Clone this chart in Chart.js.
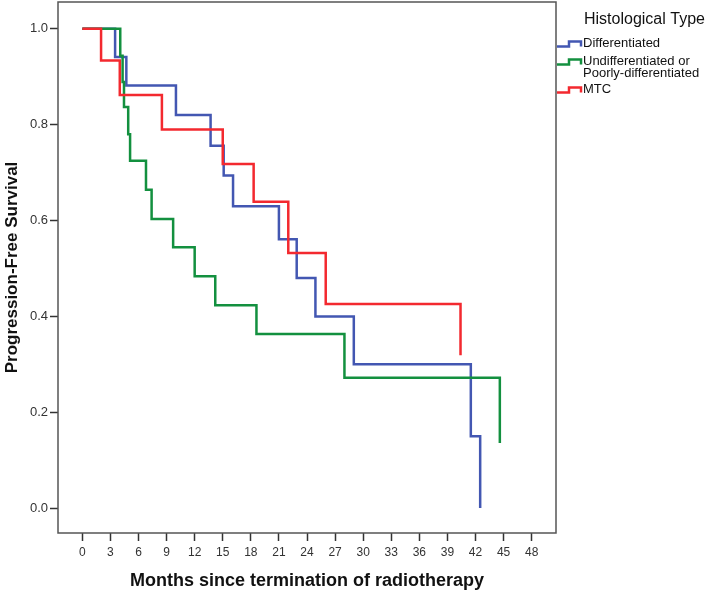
<!DOCTYPE html>
<html>
<head>
<meta charset="utf-8">
<script src="https://cdn.jsdelivr.net/npm/chart.js@4/dist/chart.umd.min.js"></script>
<style>
html,body{margin:0;padding:0;background:#fff;}
#wrap{width:709px;height:593px;position:relative;}
</style>
</head>
<body>
<div id="wrap"><canvas id="c" width="709" height="593"></canvas></div>
<script>
// ---- data ----
const seriesNames = ["Differentiated", "Undifferentiated or Poorly-differentiated", "MTC"];
const legendTitle = "Histological Type";

const diffMonths = [0, 3.5, 4.7, 10.0, 13.7, 15.1, 16.1, 21.0, 22.9, 24.9, 29.0, 41.5, 42.5];
const diffSurv   = [1, 0.941, 0.882, 0.820, 0.756, 0.694, 0.630, 0.561, 0.480, 0.400, 0.300, 0.150, 0.0];

const undiffMonths = [0, 4.05, 4.3, 4.45, 4.9, 5.1, 6.8, 7.4, 9.7, 12.0, 14.2, 18.6, 28.0, 44.6];
const undiffSurv   = [1, 0.944, 0.889, 0.837, 0.780, 0.725, 0.664, 0.603, 0.544, 0.484, 0.423, 0.363, 0.272, 0.136];

const mtcMonths = [0, 2.0, 4.0, 8.5, 15.0, 18.3, 22.0, 26.0, 40.4];
const mtcSurv   = [1, 0.934, 0.862, 0.790, 0.718, 0.639, 0.532, 0.426, 0.319];

const xTickValues = [0, 3, 6, 9, 12, 15, 18, 21, 24, 27, 30, 33, 36, 39, 42, 45, 48];
const yTickValues = [0.0, 0.2, 0.4, 0.6, 0.8, 1.0];

const colors = ["#4357b2", "#13903f", "#f3292f"];

function pts(xs, ys) { return xs.map((x, i) => ({ x: x, y: ys[i] })); }

const FONT = "'Liberation Sans', Arial, Helvetica, sans-serif";

const frameAndLegend = {
  id: 'frameAndLegend',
  afterDraw(chart) {
    const ctx = chart.ctx;
    const a = chart.chartArea;
    ctx.save();
    ctx.strokeStyle = '#555';
    ctx.lineWidth = 1.5;
    ctx.strokeRect(a.left, a.top, a.right - a.left, a.bottom - a.top);
    // legend
    ctx.fillStyle = '#111';
    ctx.textBaseline = 'middle';
    ctx.textAlign = 'left';
    ctx.font = "16px " + FONT;
    ctx.fillText(legendTitle, 584, 19.5);
    ctx.font = "13px " + FONT;
    const items = [
      { lines: [seriesNames[0]], y: 43.5 },
      { lines: ["Undifferentiated or", "Poorly-differentiated"], y: 61.5 },
      { lines: [seriesNames[2]], y: 89.5 }
    ];
    items.forEach((it, i) => {
      const iy = it.y;
      ctx.strokeStyle = colors[i];
      ctx.lineWidth = 2.5;
      ctx.beginPath();
      ctx.moveTo(557, iy + 3);
      ctx.lineTo(569, iy + 3);
      ctx.lineTo(569, iy - 2);
      ctx.lineTo(581, iy - 2);
      ctx.lineTo(581, iy + 3);
      ctx.stroke();
      it.lines.forEach((t, k) => ctx.fillText(t, 583, iy + k * 11.8));
    });
    ctx.restore();
  }
};

const ds = [
  { label: seriesNames[0], data: pts(diffMonths, diffSurv), borderColor: colors[0], order: 3 },
  { label: seriesNames[1], data: pts(undiffMonths, undiffSurv), borderColor: colors[1], order: 2 },
  { label: seriesNames[2], data: pts(mtcMonths, mtcSurv), borderColor: colors[2], order: 1 }
].map(d => Object.assign(d, {
  stepped: 'before', borderWidth: 2.5, pointRadius: 0, fill: false, tension: 0,
  borderJoinStyle: 'miter', borderCapStyle: 'butt'
}));

new Chart(document.getElementById('c'), {
  type: 'line',
  data: { datasets: ds },
  plugins: [frameAndLegend],
  options: {
    responsive: false,
    animation: false,
    devicePixelRatio: 1,
    layout: { padding: { top: 2, right: 153, left: 0, bottom: 0 } },
    plugins: { legend: { display: false }, tooltip: { enabled: false } },
    scales: {
      x: {
        type: 'linear',
        min: -2.6, max: 50.6,
        afterBuildTicks: s => { s.ticks = xTickValues.map(v => ({ value: v })); },
        afterFit: s => { s.height = 60; s.paddingLeft = 0; s.paddingRight = 0; },
        grid: { display: true, drawOnChartArea: false, drawTicks: true, tickLength: 8, tickColor: '#333', tickWidth: 1.5 },
        border: { display: false },
        ticks: { color: '#333', font: { family: FONT, size: 12 }, padding: 4, maxRotation: 0, autoSkip: false,
                 callback: v => String(v) },
        title: { display: true, text: 'Months since termination of radiotherapy', color: '#111',
                 font: { family: FONT, size: 18, weight: 'bold' }, padding: { top: 0, bottom: 1 } }
      },
      y: {
        type: 'linear',
        min: -0.052, max: 1.056,
        afterBuildTicks: s => { s.ticks = yTickValues.map(v => ({ value: v })); },
        afterFit: s => { s.width = 58; s.paddingTop = 0; s.paddingBottom = 0; },
        grid: { display: true, drawOnChartArea: false, drawTicks: true, tickLength: 8, tickColor: '#333', tickWidth: 1.5 },
        border: { display: false },
        ticks: { color: '#333', font: { family: FONT, size: 13 }, padding: 2, autoSkip: false,
                 callback: v => Number(v).toFixed(1) },
        title: { display: true, text: 'Progression-Free Survival', color: '#111',
                 font: { family: FONT, size: 17, weight: 'bold' }, padding: { top: 2, bottom: 0 } }
      }
    }
  }
});
</script>
</body>
</html>
